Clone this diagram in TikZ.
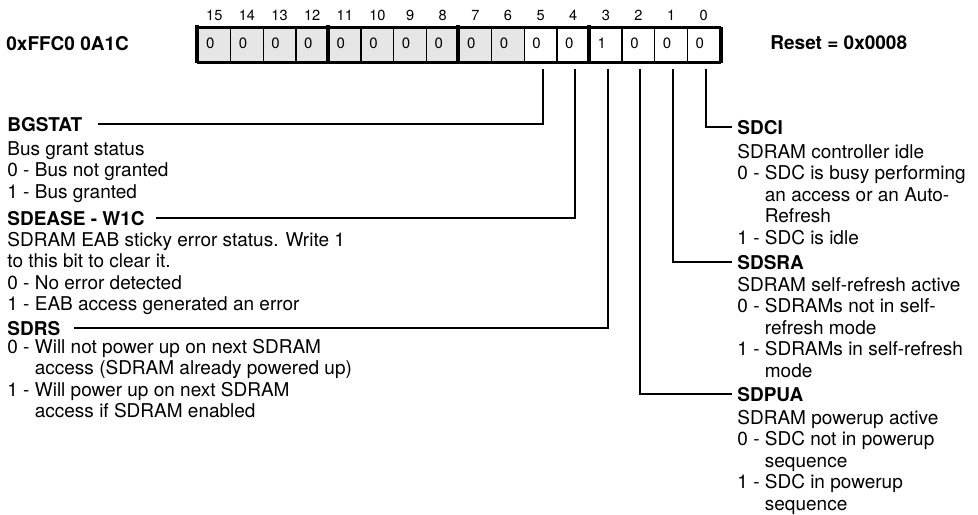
\documentclass[tikz,border=0pt]{standalone}
\usepackage{fontspec}
\setmainfont{TeX Gyre Heros}
\usetikzlibrary{calc}
\definecolor{cellgray}{RGB}{230,230,230}
\newcommand{\ind}{\hphantom{0 -\ }}

\begin{document}
\begin{tikzpicture}[x=0.5pt,y=-0.5pt,
 cell/.style={draw,line width=.7pt,minimum width=16.3125pt,minimum height=17pt,inner sep=0pt},
 bitno/.style={font=\fontsize{7.3}{8}\selectfont,anchor=base,inner sep=0pt},
 bitval/.style={font=\fontsize{7.5}{8}\selectfont,anchor=base,inner sep=0pt},
 field/.style={font=\fontsize{9.5}{10.75}\selectfont\bfseries,anchor=base west,inner sep=0pt},
 desc/.style={font=\fontsize{9.5}{10.75}\selectfont,align=left,anchor=base west,inner sep=0pt},
 conn/.style={line width=1pt},
 nibble/.style={line width=2pt}
]
\useasboundingbox (0,0) rectangle (978,514);
\node[field] (addr) at (6,50) {0xFFC0 0A1C};
\node[field] (reset) at (770,49) {Reset = 0x0008};
\foreach \b/\v/\c in {15/0/cellgray,14/0/cellgray,13/0/cellgray,12/0/cellgray,
 11/0/cellgray,10/0/cellgray,9/0/cellgray,8/0/cellgray,7/0/cellgray,6/0/cellgray,
 5/0/white,4/0/white,3/1/white,2/0/white,1/0/white,0/0/white}{
 \node[cell,fill=\c] (b\b) at ({214.3125+(15-\b)*32.625},45) {};
 \node[bitval] (v\b) at ($(b\b.center)+(-4,3)$) {\v};
 \node[bitno] (n\b) at ($(b\b.north)+(0,-7)$) {\b};
}
\draw[line width=1pt] (b15.north west) -- (b0.north east) (b15.south west) -- (b0.south east);
\foreach \b in {15,11,7,3}
 \draw[nibble] ($(b\b.north west)+(0,-2)$) -- (b\b.south west);
\draw[nibble] (b0.north east) -- (b0.south east);

\node[field] (bgstat) at (7,131) {BGSTAT};
\node[desc] (bgstatd) at (7,198) {Bus grant status\\0 - Bus not granted\\1 - Bus granted};
\node[field] (sdease) at (7,225) {SDEASE - W1C};
\node[desc] (sdeased) at (7,310.5) {SDRAM EAB sticky error status. Write 1\\to this bit to clear it.\\0 - No error detected\\1 - EAB access generated an error};
\node[field] (sdrs) at (7,335) {SDRS};
\node[desc] (sdrsd) at (7,417.5) {0 - Will not power up on next SDRAM\\\ind access (SDRAM already powered up)\\1 - Will power up on next SDRAM\\\ind access if SDRAM enabled};

\node[field] (sdci) at (737,134) {SDCI};
\node[desc] (sdcid) at (737,244) {SDRAM controller idle\\0 - SDC is busy performing\\\ind an access or an Auto-\\\ind Refresh\\1 - SDC is idle};
\node[field] (sdsra) at (737,269) {SDSRA};
\node[desc] (sdsrad) at (737,377) {SDRAM self-refresh active\\0 - SDRAMs not in self-\\\ind refresh mode\\1 - SDRAMs in self-refresh\\\ind mode};
\node[field] (sdpua) at (737,401) {SDPUA};
\node[desc] (sdpuad) at (737,510) {SDRAM powerup active\\0 - SDC not in powerup\\\ind sequence\\1 - SDC in powerup\\\ind sequence};

\draw[conn] ($(b5.south)+(2,6)$) |- ($(bgstat.east)+(15,0)$);
\draw[conn] ($(b4.south)+(2,6)$) |- ($(sdease.east)+(11,0)$);
\draw[conn] ($(b3.south)+(2,6)$) |- ($(sdrs.east)+(13,0)$);
\draw[conn] ($(b2.south)+(2,6)$) |- ($(sdpua.west)+(-5,0)$);
\draw[conn] ($(b1.south)+(2,6)$) |- ($(sdsra.west)+(-5,0)$);
\draw[conn] ($(b0.south)+(2,6)$) |- ($(sdci.west)+(-5,0)$);
\end{tikzpicture}
\end{document}
